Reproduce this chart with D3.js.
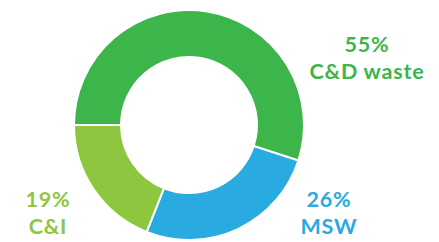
<!DOCTYPE html>
<html>
<head>
<meta charset="utf-8">
<script src="https://cdn.jsdelivr.net/npm/d3@7"></script>
<style>
  body { margin: 0; background: #fff; }
  text { font-family: Lato, sans-serif; font-weight: 700; letter-spacing: 0.8px; }
</style>
</head>
<body>
<div id="viz"></div>
<script>
// waste share by source
const categories = ["C&D waste", "MSW", "C&I"];
const shares = [55, 26, 19];

const colorMap = {
  "C&D waste": "#3cb54a",
  "MSW": "#29abe2",
  "C&I": "#8dc63f"
};

// label anchor (baseline of first line, centred)
const labelPos = {
  "C&D waste": { x: 367, y: 52 },
  "MSW": { x: 329, y: 207 },
  "C&I": { x: 48, y: 207 }
};

const width = 439, height = 242;
const cx = 189, cy = 125;
const outerR = 115, innerR = 68;

const svg = d3.select("#viz")
  .append("svg")
  .attr("width", width)
  .attr("height", height);

const data = categories.map((c, i) => ({ name: c, value: shares[i] }));

// start at 9 o'clock, go clockwise
const pie = d3.pie()
  .sort(null)
  .value(d => d.value)
  .startAngle(-Math.PI / 2)
  .endAngle(Math.PI * 1.5);

const arc = d3.arc()
  .innerRadius(innerR)
  .outerRadius(outerR);

const g = svg.append("g")
  .attr("transform", `translate(${cx}, ${cy})`);

g.selectAll("path")
  .data(pie(data))
  .join("path")
  .attr("d", arc)
  .attr("fill", d => colorMap[d.data.name])
  .attr("stroke", "#fff")
  .attr("stroke-width", 2);

// two separate lines: percentage, then category name
data.forEach(d => {
  const p = labelPos[d.name];
  const lab = svg.append("g")
    .attr("fill", colorMap[d.name])
    .attr("font-size", 21.5)
    .attr("text-anchor", "middle");
  lab.append("text").attr("x", p.x).attr("y", p.y).text(d.value + "%");
  lab.append("text").attr("x", p.x).attr("y", p.y + 27).text(d.name);
});
</script>
</body>
</html>
